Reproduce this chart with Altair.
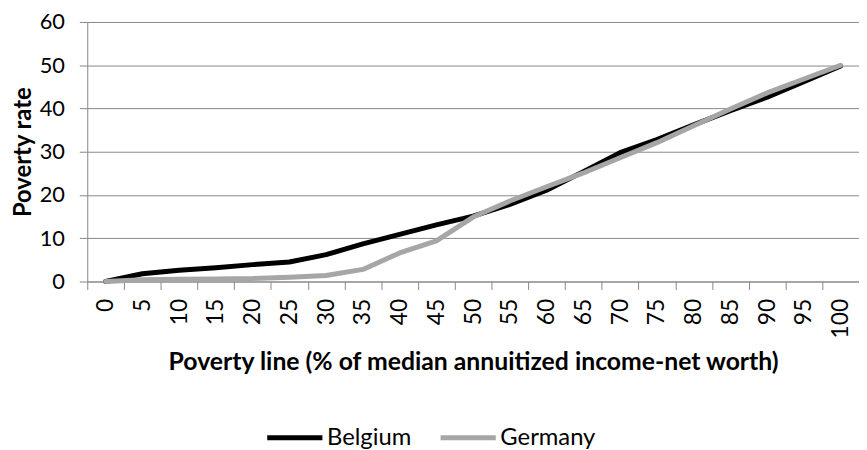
import altair as alt
import pandas as pd

poverty_line = [0, 5, 10, 15, 20, 25, 30, 35, 40, 45, 50, 55, 60, 65, 70, 75, 80, 85, 90, 95, 100]
belgium = [0, 1.8, 2.6, 3.2, 3.9, 4.5, 6.2, 8.7, 10.9, 13.1, 15.1, 17.8, 21.1, 25.4, 29.8, 32.8, 36.2, 39.5, 42.6, 46.2, 49.8]
germany = [0, 0.4, 0.5, 0.6, 0.7, 1.0, 1.4, 2.8, 6.6, 9.4, 14.9, 18.6, 21.9, 25.1, 28.6, 32.1, 36.0, 39.9, 43.6, 46.8, 50.0]
series_names = ["Belgium", "Germany"]
series_colors = ["#000000", "#a6a6a6"]
y_ticks = [0, 10, 20, 30, 40, 50, 60]

rows = []
for name, vals in zip(series_names, [belgium, germany]):
    for xv, v in zip(poverty_line, vals):
        rows.append({"line": xv, "rate": v, "country": name})
df = pd.DataFrame(rows)

FONT = "Lato"
GRID = "#878787"
PLOT_H = 262

chart = alt.Chart(df).mark_line(
    strokeWidth=5, strokeCap="round", strokeJoin="round"
).encode(
    x=alt.X(
        "line:O",
        bandPosition=0.5,
        scale=alt.Scale(type="band", paddingInner=0, paddingOuter=0),
        axis=alt.Axis(
            title="Poverty line (% of median annuitized income-net worth)",
            labelAngle=-90,
            tickBand="extent",
            tickSize=8,
            tickColor=GRID,
            domainColor=GRID,
            labelPadding=9,
            labelFont=FONT,
            labelFontSize=23,
            labelColor="#000000",
            titleFont=FONT,
            titleFontSize=25,
            titleFontWeight="bold",
            titleColor="#000000",
            titleY=81,
            titleBaseline="middle",
            grid=False,
        ),
    ),
    y=alt.Y(
        "rate:Q",
        scale=alt.Scale(domain=[0, 60], nice=False),
        axis=alt.Axis(
            title="Poverty rate",
            values=y_ticks,
            tickSize=8,
            tickColor=GRID,
            domainColor=GRID,
            gridColor=GRID,
            grid=True,
            labelPadding=15,
            labelFont=FONT,
            labelFontSize=22,
            labelColor="#000000",
            titleFont=FONT,
            titleFontSize=24,
            titleFontWeight="bold",
            titleColor="#000000",
            titleX=-76,
            titleY=PLOT_H / 2,
            titleAngle=270,
            titleAlign="center",
            titleBaseline="top",
        ),
    ),
    color=alt.Color(
        "country:N",
        scale=alt.Scale(domain=series_names, range=series_colors),
        legend=alt.Legend(
            title=None,
            orient="none",
            legendX=179,
            legendY=389,
            direction="horizontal",
            symbolType="stroke",
            symbolSize=3100,
            symbolStrokeWidth=5,
            labelFont=FONT,
            labelFontSize=24,
            labelColor="#000000",
            labelOffset=2,
            columnPadding=18,
        ),
    ),
).properties(
    width=779,
    height=PLOT_H,
    autosize=alt.AutoSizeParams(type="none"),
    padding={"left": 80, "top": 12, "right": 0, "bottom": 168},
).configure_view(stroke=None)

chart.save("out.html", embed_options={"renderer": "svg", "actions": False})
